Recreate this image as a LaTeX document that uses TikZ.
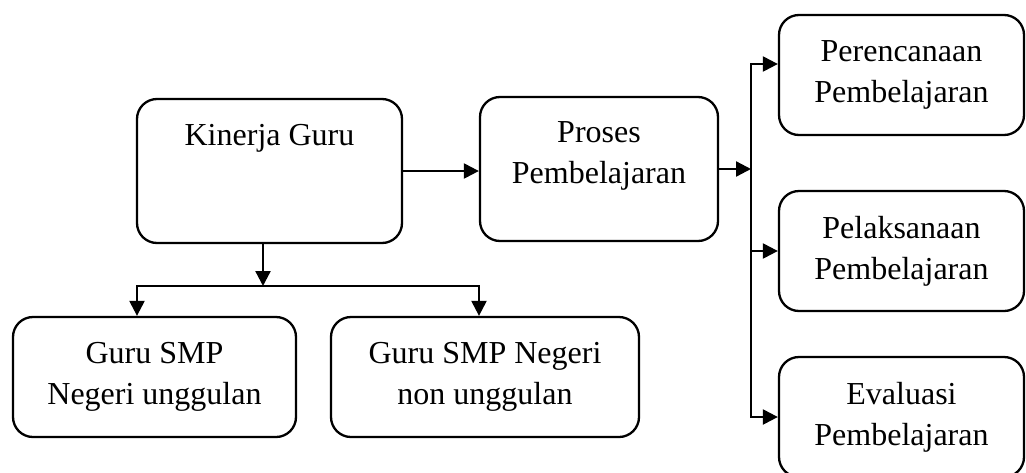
\documentclass[tikz,border=0pt]{standalone}
\usepackage{fontspec}
\setmainfont{Liberation Serif}
\usetikzlibrary{arrows.meta}

\begin{document}
\begin{tikzpicture}[x=1pt,y=-1pt,
	box/.style={draw,line width=2.3pt,rounded corners=20pt,inner sep=0pt,
		align=center,font={\fontsize{32}{41}\selectfont}},
	arr/.style={line width=2.3pt,-{Triangle[length=15pt,width=15pt]}},
	wire/.style={line width=2.3pt,line cap=rect}]
	\useasboundingbox[fill=white] (0,0) rectangle (1026,472);
	% boxes
	\node[box,minimum width=265pt,text height=46pt,text depth=98pt](kinerja) at (269.5,171){Kinerja Guru};
	\node[box,minimum width=238pt,text height=45pt,text depth=99pt](proses) at (599,169)
		{\begin{tabular}[t]{@{}c@{}}Proses\\Pembelajaran\end{tabular}};
	\node[box,minimum width=245pt,minimum height=120pt](perencanaan) at (901.5,75){Perencanaan\\Pembelajaran};
	\node[box,minimum width=245pt,minimum height=120pt](pelaksanaan) at (901.5,251){Pelaksanaan\\Pembelajaran};
	\node[box,minimum width=245pt,minimum height=120pt](evaluasi) at (901.5,417){Evaluasi\\Pembelajaran};
	\node[box,minimum width=283pt,minimum height=120pt](unggul) at (154.5,377){Guru SMP\\Negeri unggulan};
	\node[box,minimum width=308pt,minimum height=120pt](nonunggul) at (485,377){Guru SMP Negeri\\non unggulan};
	% right side
	\coordinate(bustop) at (751,64);
	\coordinate(busbot) at (751,417);
	\draw[arr](kinerja.east)--(kinerja.east -| proses.west);
	\draw[arr](proses.east)--(proses.east -| bustop);
	\draw[wire](bustop)--(busbot);
	\draw[arr](bustop)--(bustop -| perencanaan.west);
	\draw[arr](bustop |- pelaksanaan.west)--(pelaksanaan.west);
	\draw[arr](busbot)--(busbot -| evaluasi.west);
	% lower side
	\coordinate(split) at (263,286);
	\coordinate(splitl) at (137,286);
	\coordinate(splitr) at (479,286);
	\draw[arr](split |- kinerja.south)--(split);
	\draw[wire](splitl)--(splitr);
	\draw[arr](splitl)--(splitl |- unggul.north);
	\draw[arr](splitr)--(splitr |- nonunggul.north);
\end{tikzpicture}
\end{document}
